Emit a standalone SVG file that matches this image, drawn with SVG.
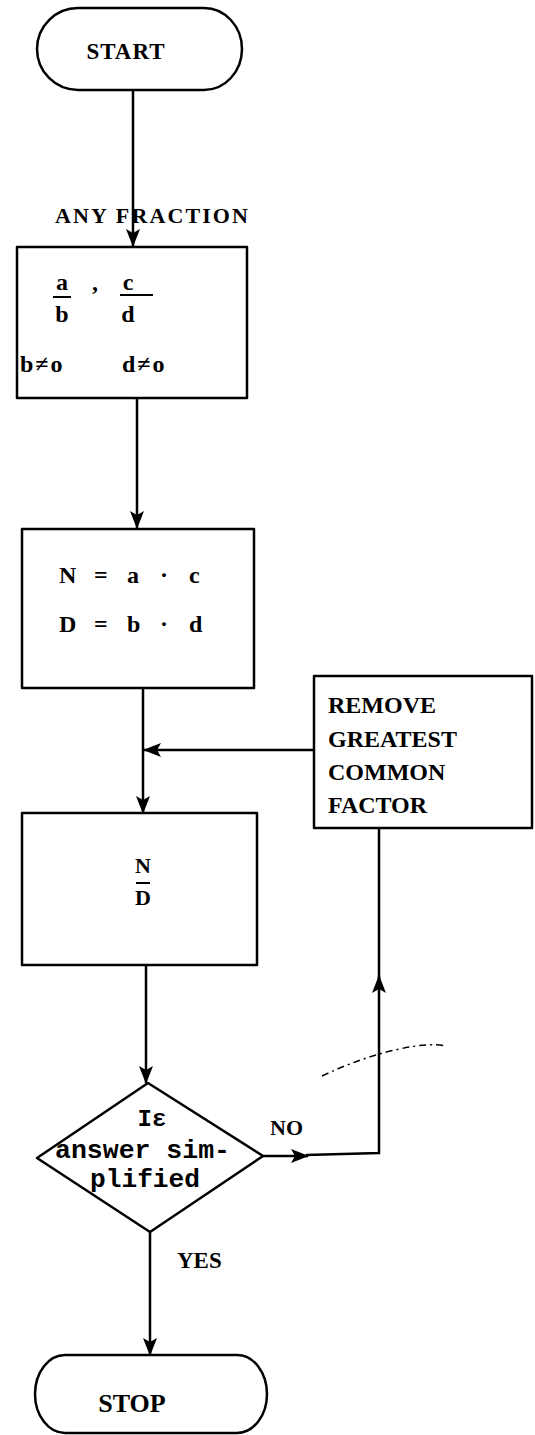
<svg xmlns="http://www.w3.org/2000/svg" width="535" height="1435" viewBox="0 0 535 1435">
<style>
.shape{fill:#fff;stroke:#000;stroke-width:2.5;stroke-linejoin:round}
.conn{fill:none;stroke:#000;stroke-width:2.5}
.t{font-family:"Liberation Serif","Times New Roman",serif;font-weight:bold;fill:#000}
.m{font-family:"Liberation Mono","Courier New",monospace;font-weight:bold;fill:#000}
.bar{stroke:#000;stroke-width:2}
</style>
<defs>
<marker id="ah" viewBox="0 0 18 14" refX="17" refY="7" markerWidth="18" markerHeight="14" markerUnits="userSpaceOnUse" orient="auto">
<path d="M0,0 L18,7 L0,14 L4,7 Z" fill="#000"/>
</marker>
</defs>
<rect width="535" height="1435" fill="#fff"/>

<g id="connectors">
<path class="conn" d="M133,90 V246" marker-end="url(#ah)"/>
<path class="conn" d="M137,398 V528" marker-end="url(#ah)"/>
<path class="conn" d="M143,688 V813" marker-end="url(#ah)"/>
<path class="conn" d="M314,750 H144" marker-end="url(#ah)"/>
<path class="conn" d="M146,965 V1083" marker-end="url(#ah)"/>
<path class="conn" d="M263,1156 H308" marker-end="url(#ah)"/>
<path class="conn" d="M306,1155 L379,1153 V976" marker-end="url(#ah)"/>
<path class="conn" d="M379,980 V828"/>
<path class="conn" d="M150,1232 V1355" marker-end="url(#ah)"/>
<path d="M322,1076 Q360,1058 395,1050 T445,1046" fill="none" stroke="#000" stroke-width="1.5" stroke-dasharray="7 4 2 4"/>
<text class="t" x="270" y="1135" font-size="22">NO</text>
<text class="t" x="177" y="1268" font-size="23">YES</text>
<text class="t" x="55" y="223" font-size="22" textLength="193" lengthAdjust="spacing">ANY FRACTION</text>
</g>

<g id="start">
<path class="shape" d="M78,8 H204 A38,41 0 0 1 204,90 H78 A41,41 0 0 1 78,8 Z"/>
<text class="t" x="126" y="59" font-size="23" text-anchor="middle" letter-spacing="1">START</text>
</g>

<g id="input">
<rect class="shape" x="17" y="247" width="230" height="151"/>
<text class="t" x="62" y="290" font-size="24" text-anchor="middle">a</text>
<line class="bar" x1="53" y1="297" x2="71" y2="297"/>
<text class="t" x="62" y="322" font-size="24" text-anchor="middle">b</text>
<text class="t" x="95" y="290" font-size="24" text-anchor="middle">,</text>
<text class="t" x="128" y="290" font-size="24" text-anchor="middle">c</text>
<line class="bar" x1="120" y1="295" x2="153" y2="295"/>
<text class="t" x="128" y="322" font-size="24" text-anchor="middle">d</text>
<text class="t" x="20" y="372" font-size="24" letter-spacing="2">b≠o</text>
<text class="t" x="122" y="372" font-size="24" letter-spacing="2">d≠o</text>
</g>

<g id="multiply">
<rect class="shape" x="22" y="529" width="232" height="159"/>
<text class="t" font-size="24" y="583"><tspan x="59">N</tspan><tspan x="94">=</tspan><tspan x="127">a</tspan><tspan x="160">·</tspan><tspan x="189">c</tspan></text>
<text class="t" font-size="24" y="632"><tspan x="59">D</tspan><tspan x="94">=</tspan><tspan x="127">b</tspan><tspan x="160">·</tspan><tspan x="189">d</tspan></text>
</g>

<g id="fraction">
<rect class="shape" x="22" y="813" width="235" height="152"/>
<text class="t" x="143" y="873" font-size="22" text-anchor="middle">N</text>
<line class="bar" x1="136" y1="883" x2="150" y2="883"/>
<text class="t" x="143" y="905" font-size="22" text-anchor="middle">D</text>
</g>

<g id="remove">
<rect class="shape" x="314" y="676" width="218" height="152"/>
<text class="t" x="328" y="713" font-size="24">REMOVE</text>
<text class="t" x="328" y="747" font-size="24">GREATEST</text>
<text class="t" x="328" y="780" font-size="24">COMMON</text>
<text class="t" x="328" y="813" font-size="24">FACTOR</text>
</g>

<g id="decision">
<path class="shape" d="M148,1083 L263,1156 L150,1232 L37,1158 Z"/>
<text class="m" x="152" y="1126" font-size="24" text-anchor="middle">Iε</text>
<text class="m" x="55" y="1158" font-size="26" textLength="175" lengthAdjust="spacingAndGlyphs">answer sim-</text>
<text class="m" x="90" y="1187" font-size="26" textLength="110" lengthAdjust="spacingAndGlyphs">plified</text>
</g>

<g id="stop">
<path class="shape" d="M65,1355 H237 A30,39 0 0 1 237,1433 H65 A30,39 0 0 1 65,1355 Z"/>
<text class="t" x="132" y="1412" font-size="26" text-anchor="middle">STOP</text>
</g>
</svg>
